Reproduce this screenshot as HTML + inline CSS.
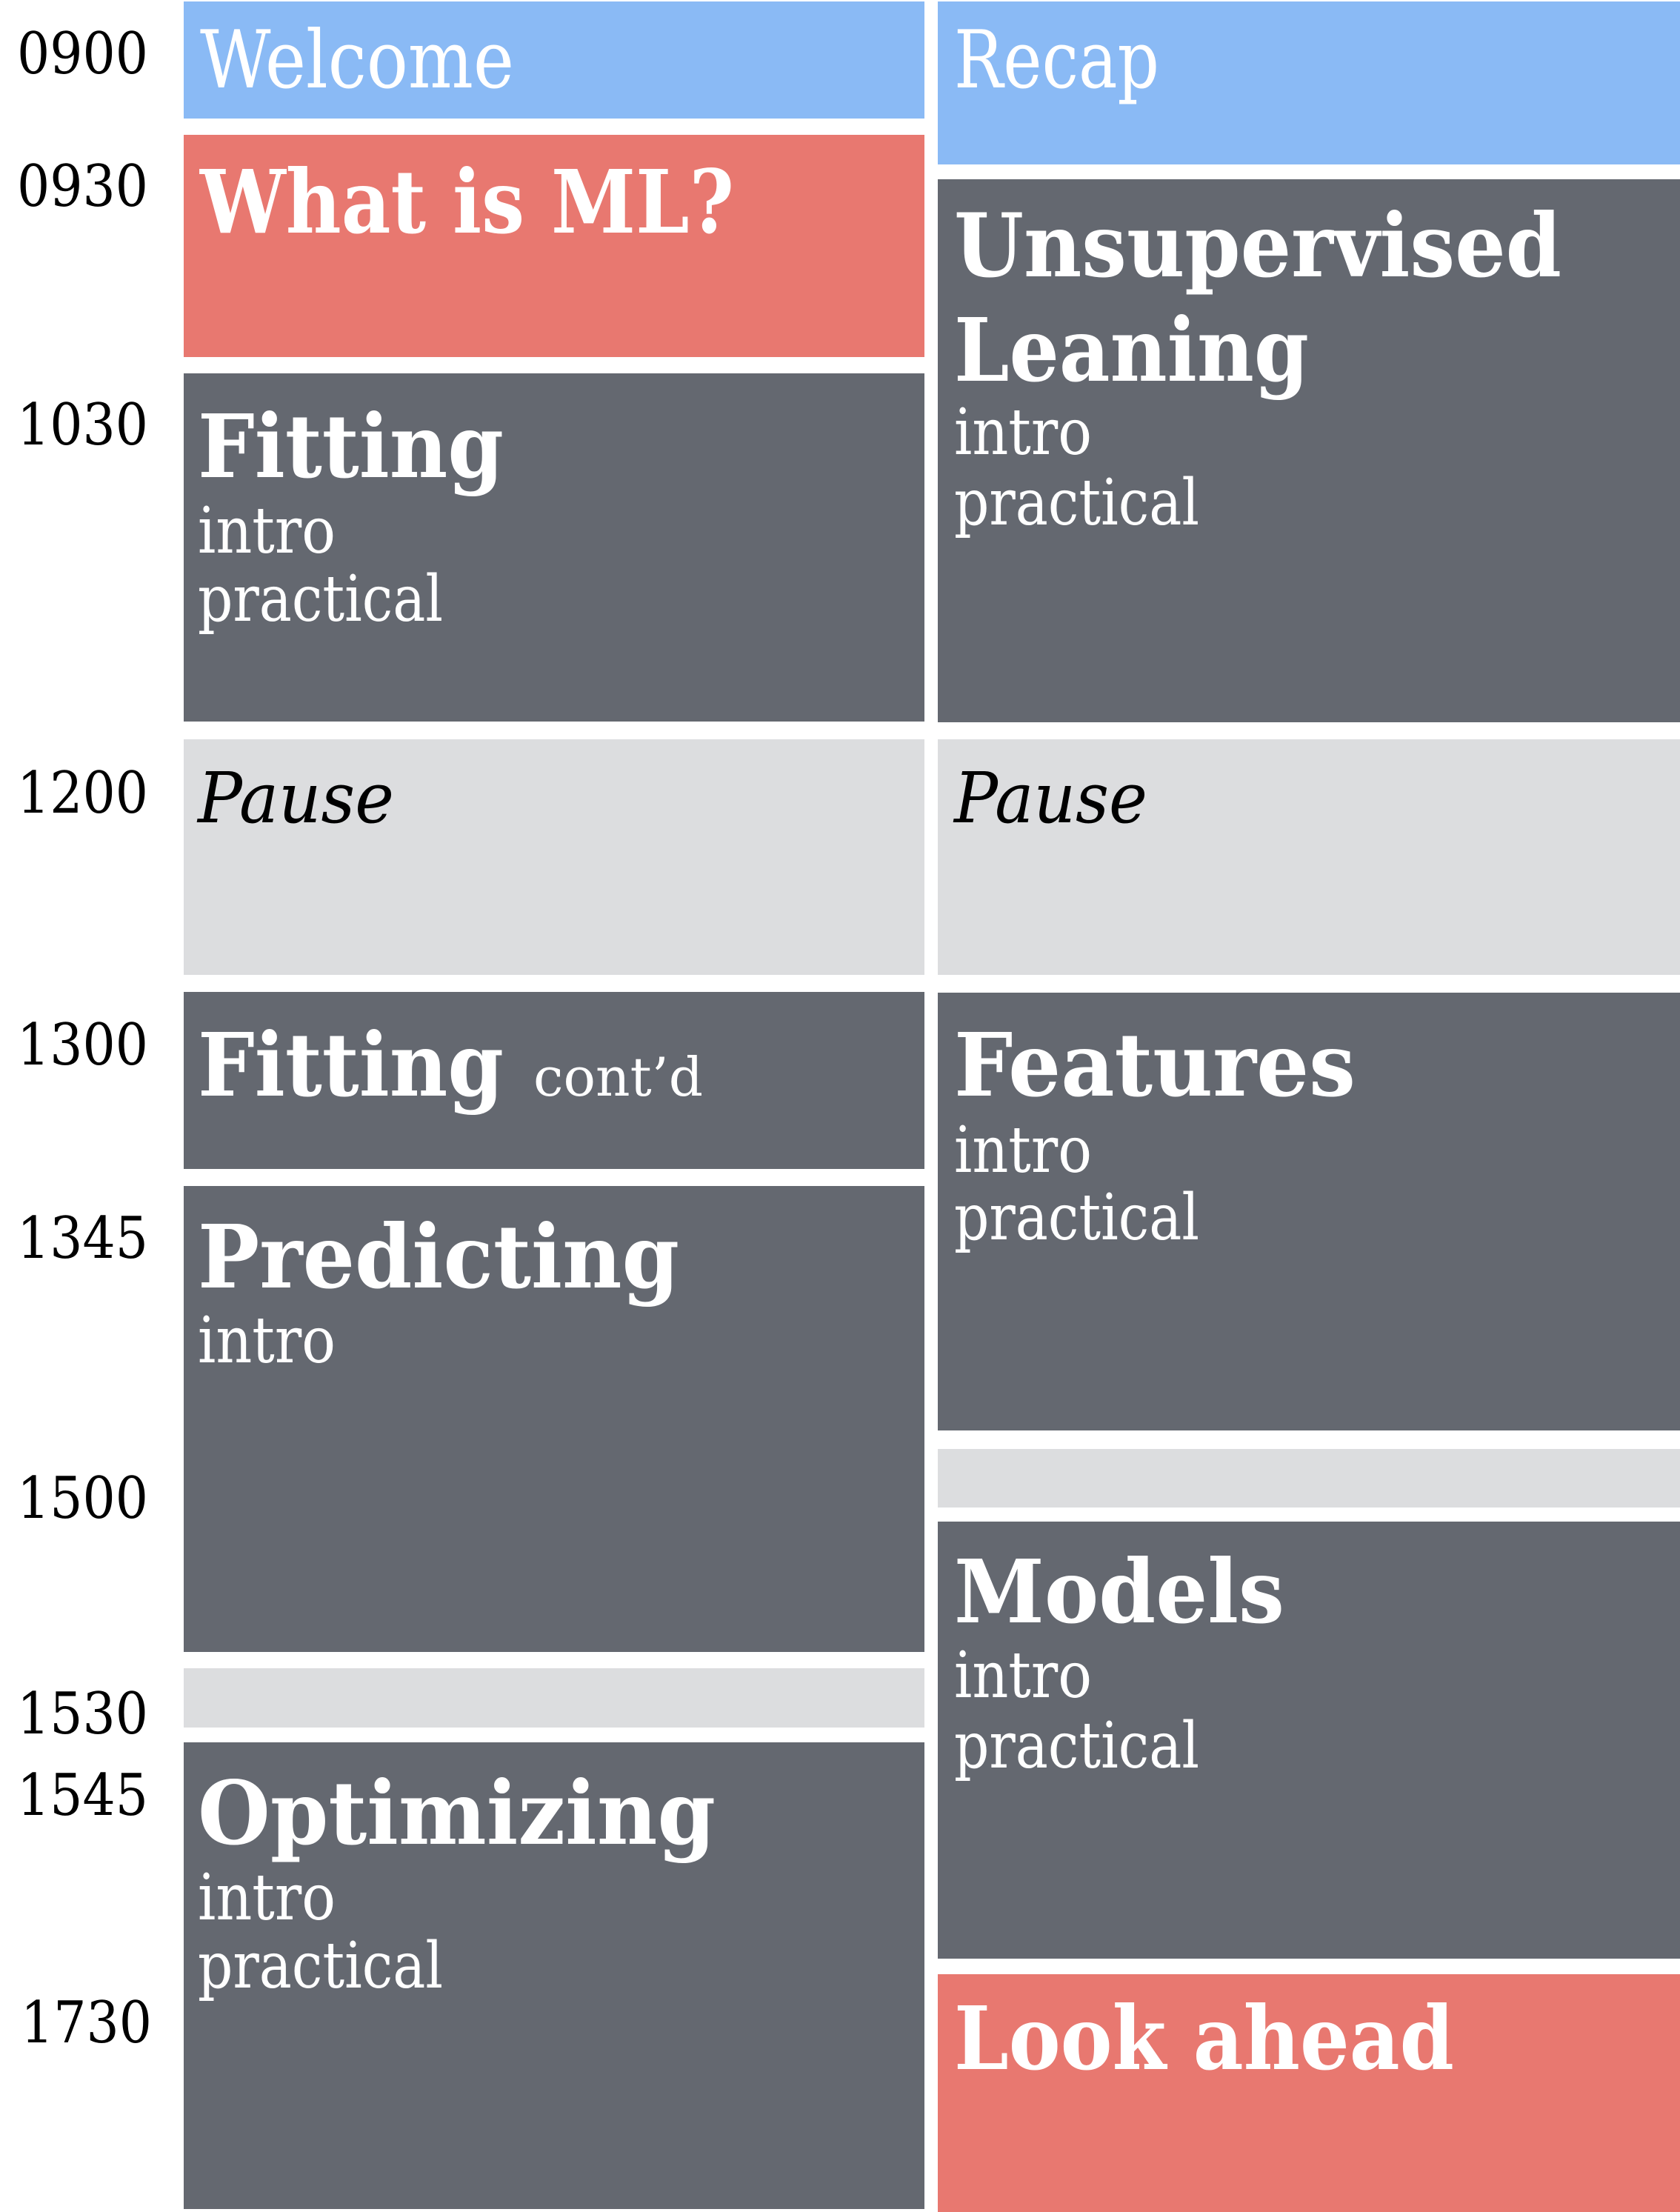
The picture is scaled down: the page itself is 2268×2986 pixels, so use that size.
<!DOCTYPE html>
<html><head><meta charset="utf-8"><style>
html,body{margin:0;padding:0;background:#fff;}
svg{display:block;}
text{font-family:"DejaVu Serif","Liberation Serif",serif;}
.t{font-weight:bold;font-size:118px;fill:#fff;}
.s{font-size:86px;fill:#fff;}
.w{font-size:108px;fill:#fff;}
.p{font-style:italic;font-size:95px;fill:#000;}
.l{font-size:78px;fill:#000;}
</style></head><body>
<svg width="2268" height="2986" viewBox="0 0 2268 2986" xmlns="http://www.w3.org/2000/svg">
<rect width="2268" height="2986" fill="#fff"/>
<rect x="248" y="2" width="1000" height="158" fill="#8abaf5"/>
<rect x="248" y="182" width="1000" height="300" fill="#e87870"/>
<rect x="248" y="504" width="1000" height="470" fill="#646870"/>
<rect x="248" y="998" width="1000" height="318" fill="#dcdddf"/>
<rect x="248" y="1339" width="1000" height="239" fill="#646870"/>
<rect x="248" y="1601" width="1000" height="629" fill="#646870"/>
<rect x="248" y="2252" width="1000" height="80" fill="#dcdddf"/>
<rect x="248" y="2352" width="1000" height="630" fill="#646870"/>
<rect x="1266" y="2" width="1002" height="220" fill="#8abaf5"/>
<rect x="1266" y="242" width="1002" height="733" fill="#646870"/>
<rect x="1266" y="998" width="1002" height="318" fill="#dcdddf"/>
<rect x="1266" y="1340" width="1002" height="591" fill="#646870"/>
<rect x="1266" y="1956" width="1002" height="79" fill="#dcdddf"/>
<rect x="1266" y="2054" width="1002" height="590" fill="#646870"/>
<rect x="1266" y="2665" width="1002" height="321" fill="#e87870"/>

<text class="l" x="23" y="99" textLength="177" lengthAdjust="spacingAndGlyphs">0900</text>
<text class="l" x="23" y="278" textLength="177" lengthAdjust="spacingAndGlyphs">0930</text>
<text class="l" x="23" y="600" textLength="177" lengthAdjust="spacingAndGlyphs">1030</text>
<text class="l" x="23" y="1097" textLength="177" lengthAdjust="spacingAndGlyphs">1200</text>
<text class="l" x="23" y="1437" textLength="177" lengthAdjust="spacingAndGlyphs">1300</text>
<text class="l" x="23" y="1698" textLength="177" lengthAdjust="spacingAndGlyphs">1345</text>
<text class="l" x="23" y="2049" textLength="177" lengthAdjust="spacingAndGlyphs">1500</text>
<text class="l" x="23" y="2340" textLength="177" lengthAdjust="spacingAndGlyphs">1530</text>
<text class="l" x="23" y="2450" textLength="177" lengthAdjust="spacingAndGlyphs">1545</text>
<text class="l" x="28" y="2757" textLength="177" lengthAdjust="spacingAndGlyphs">1730</text>

<text class="w" x="270" y="118" textLength="424" lengthAdjust="spacingAndGlyphs">Welcome</text>
<text class="t" x="270" y="314" textLength="721" lengthAdjust="spacingAndGlyphs">What is ML?</text>
<text class="t" x="267" y="644" textLength="413" lengthAdjust="spacingAndGlyphs">Fitting</text>
<text class="s" x="267" y="746" textLength="186" lengthAdjust="spacingAndGlyphs">intro</text>
<text class="s" x="267" y="838" textLength="331" lengthAdjust="spacingAndGlyphs">practical</text>
<text class="p" x="267" y="1110" textLength="265" lengthAdjust="spacingAndGlyphs">Pause</text>
<text class="t" x="267" y="1479" textLength="413" lengthAdjust="spacingAndGlyphs">Fitting</text>
<text class="s" x="720" y="1479" style="font-size:72px" textLength="229" lengthAdjust="spacingAndGlyphs">cont’d</text>
<text class="t" x="267" y="1738" textLength="650" lengthAdjust="spacingAndGlyphs">Predicting</text>
<text class="s" x="267" y="1839" textLength="186" lengthAdjust="spacingAndGlyphs">intro</text>
<text class="t" x="267" y="2489" textLength="699" lengthAdjust="spacingAndGlyphs">Optimizing</text>
<text class="s" x="267" y="2591" textLength="186" lengthAdjust="spacingAndGlyphs">intro</text>
<text class="s" x="267" y="2683" textLength="331" lengthAdjust="spacingAndGlyphs">practical</text>

<text class="w" x="1288" y="118" textLength="277" lengthAdjust="spacingAndGlyphs">Recap</text>
<text class="t" x="1288" y="373" textLength="820" lengthAdjust="spacingAndGlyphs">Unsupervised</text>
<text class="t" x="1288" y="514" textLength="479" lengthAdjust="spacingAndGlyphs">Leaning</text>
<text class="s" x="1288" y="613" textLength="186" lengthAdjust="spacingAndGlyphs">intro</text>
<text class="s" x="1288" y="708" textLength="331" lengthAdjust="spacingAndGlyphs">practical</text>
<text class="p" x="1288" y="1110" textLength="261" lengthAdjust="spacingAndGlyphs">Pause</text>
<text class="t" x="1288" y="1479" textLength="542" lengthAdjust="spacingAndGlyphs">Features</text>
<text class="s" x="1288" y="1582" textLength="186" lengthAdjust="spacingAndGlyphs">intro</text>
<text class="s" x="1288" y="1673" textLength="331" lengthAdjust="spacingAndGlyphs">practical</text>
<text class="t" x="1288" y="2190" textLength="446" lengthAdjust="spacingAndGlyphs">Models</text>
<text class="s" x="1288" y="2291" textLength="186" lengthAdjust="spacingAndGlyphs">intro</text>
<text class="s" x="1288" y="2386" textLength="331" lengthAdjust="spacingAndGlyphs">practical</text>
<text class="t" x="1288" y="2793" textLength="675" lengthAdjust="spacingAndGlyphs">Look ahead</text>
</svg>
</body></html>
